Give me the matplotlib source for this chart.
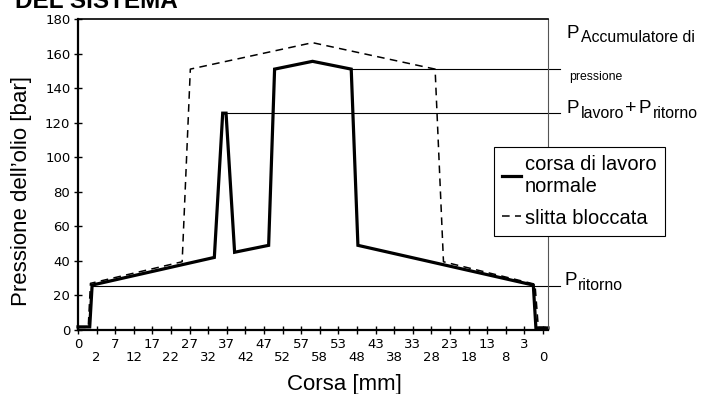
import matplotlib
matplotlib.use("Agg")
import matplotlib.pyplot as plt

# dimensioni della figura in pixel
W, H = 708, 394

# etichette dell'asse x (corsa avanti e ritorno), una per ogni tacca
corsa_etichette = ["0", "2", "7", "12", "17", "22", "27", "32", "37", "42", "47", "52", "57",
                   "58", "53", "48", "43", "38", "33", "28", "23", "18", "13", "8", "3", "0"]

# curva corsa di lavoro normale (x in posizione di tacca, y in bar)
normale_x = [0, 0.63, 0.76, 7.33, 7.78, 7.96, 8.42, 10.25, 10.57, 12.61, 14.69, 15.05, 24.48, 24.62, 25.27]
normale_y = [1.8, 1.8, 26, 42, 125.5, 125.5, 45, 49, 151, 155.5, 151, 49, 26, 1.2, 1.2]

# curva slitta bloccata
bloccata_x = [0, 0.55, 0.67, 5.6, 6.04, 12.61, 19.2, 19.65, 24.57, 24.75, 25.27]
bloccata_y = [1.5, 1.5, 27, 39.5, 151, 166.3, 151, 39.5, 26.5, 1.5, 1.5]

# linee di riferimento orizzontali: (inizio x, valore in bar)
rif_accumulatore = (14.69, 151)
rif_lavoro = (7.96, 125.5)
rif_ritorno = (0.76, 25.5)
rif_fine_x = 25.91

plt.rcParams["font.family"] = ["Liberation Sans", "DejaVu Sans"]


def px(x, y):
    # da pixel (origine in alto a sinistra) a coordinate della figura
    return x / W, 1 - y / H


fig = plt.figure(figsize=(W / 100, H / 100), dpi=100)
ax = fig.add_axes([78 / W, (H - 330) / H, (548 - 78) / W, (330 - 19) / H])

ax.plot(normale_x, normale_y, color="black", lw=2.3, solid_joinstyle="miter",
        label="corsa di lavoro\nnormale", clip_on=False)
ax.plot(bloccata_x, bloccata_y, color="black", lw=1.1, linestyle=(0, (5, 3.5)),
        label="slitta bloccata", clip_on=False)

for x0, yv in [rif_accumulatore, rif_lavoro, rif_ritorno]:
    ax.plot([x0, rif_fine_x], [yv, yv], color="black", lw=0.8, clip_on=False, zorder=1)

ax.set_xlim(0, 25.27)
ax.set_ylim(0, 180)
ax.set_yticks(range(0, 181, 20))
ax.set_xticks(range(len(corsa_etichette)))
# etichette sfalsate su due righe
ax.set_xticklabels([e if i % 2 == 0 else "\n" + e for i, e in enumerate(corsa_etichette)],
                   fontfamily="DejaVu Sans", fontsize=9.5, linespacing=1.05)
for t in ax.get_yticklabels():
    t.set_fontfamily("DejaVu Sans")
    t.set_fontsize(9.5)
ax.tick_params(direction="inout", length=6, width=1, pad=2.5)

# cornice
ax.spines["left"].set_linewidth(1.6)
ax.spines["bottom"].set_linewidth(1.6)
ax.spines["top"].set_linewidth(1.2)
ax.spines["right"].set_linewidth(0.8)
ax.spines["right"].set_color("#555555")

fig.text(*px(22, 191), "Pressione dell\u2019olio [bar]", fontsize=16, rotation=90,
         ha="center", va="center")
fig.text(*px(344.5, 390), "Corsa [mm]", fontsize=16, ha="center", va="baseline")

# titolo tagliato in alto
fig.text(*px(15, 8.5), "DEL SISTEMA", fontsize=17.5, fontweight="bold", va="baseline")

# etichette a destra
fig.text(*px(567, 38), "P", fontsize=13.5, va="baseline")
fig.text(*px(581, 42), "Accumulatore di", fontsize=11.4, va="baseline")
fig.text(*px(569, 80), "pressione", fontsize=8.8, va="baseline")
fig.text(*px(567, 113), "P", fontsize=13.5, va="baseline")
fig.text(*px(581, 117.5), "lavoro", fontsize=11.4, va="baseline")
fig.text(*px(625, 113), "+", fontsize=14, va="baseline")
fig.text(*px(639, 113), "P", fontsize=13.5, va="baseline")
fig.text(*px(653, 117.5), "ritorno", fontsize=11.4, va="baseline")
fig.text(*px(564, 285), "P", fontsize=13.5, va="baseline")
fig.text(*px(578, 290), "ritorno", fontsize=11.4, va="baseline")

# legenda
leg = ax.legend(loc="upper left", bbox_to_anchor=px(494, 147), bbox_transform=fig.transFigure,
                fontsize=14.5, handlelength=0.9, handletextpad=0.2, borderaxespad=0,
                borderpad=0.42, labelspacing=0.6, fancybox=False, framealpha=1)
leg.get_frame().set_edgecolor("black")
leg.get_frame().set_linewidth(0.8)

fig.savefig("out.png", dpi=100)
